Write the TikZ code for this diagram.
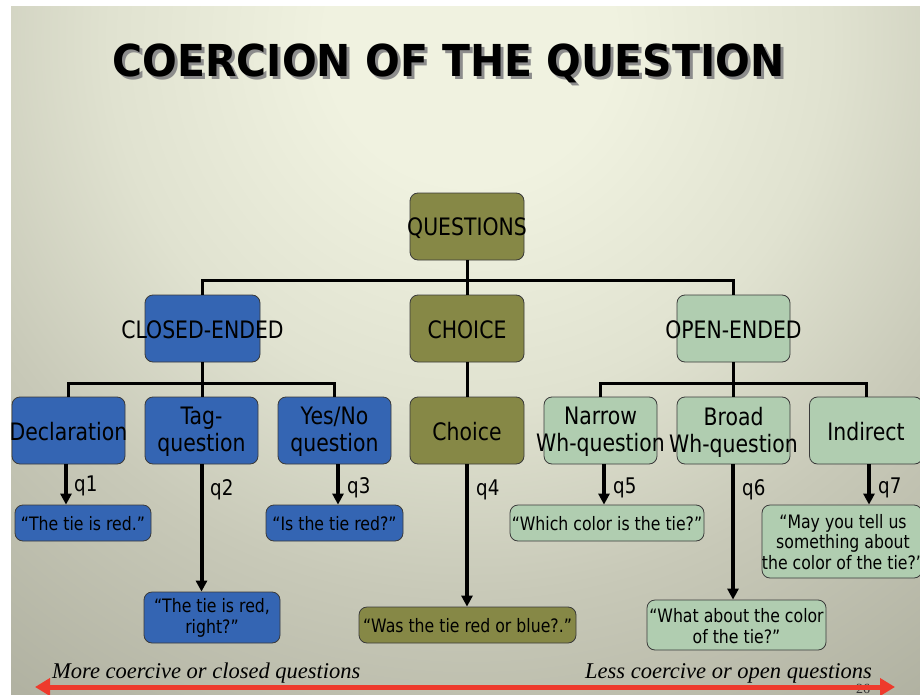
\documentclass[tikz,border=0pt]{standalone}
\usepackage{fontspec}
\usetikzlibrary{arrows.meta}
\newfontfamily\dv{DejaVu Sans}[FakeStretch=0.85]
\newfontfamily\tfont{DejaVu Sans}[FakeStretch=0.93]
\newfontfamily\itf{Liberation Serif}
\definecolor{cblue}{HTML}{3465B3}
\definecolor{colive}{HTML}{868846}
\definecolor{cgreen}{HTML}{B0CDB0}
\definecolor{cborder}{HTML}{3A3A3A}
\definecolor{bgA}{HTML}{F0F2E0}
\definecolor{bgL}{HTML}{E0E2D0}
\definecolor{bgM}{HTML}{C8C9B8}
\definecolor{bgN}{HTML}{AAAB9B}
\definecolor{bgB}{HTML}{8E8F80}
\definecolor{cred}{HTML}{EE3A2C}
\pgfdeclareradialshading{bgshade}{\pgfpoint{0bp}{0bp}}{color(0bp)=(bgA); color(4.2bp)=(bgA); color(10.6bp)=(bgL); color(16.3bp)=(bgM); color(25.4bp)=(bgN); color(33.3bp)=(bgB); color(50bp)=(bgB)}
\begin{document}
\begin{tikzpicture}[x=1pt,y=-1pt,
  box/.style={draw=cborder, line width=0.8pt, rounded corners=8pt, inner sep=0pt},
  bigtxt/.style={font=\dv\fontsize{24}{27}\selectfont, align=center, inner sep=0pt, text=black},
  smalltxt/.style={font=\dv\fontsize{18.5}{20.5}\selectfont, align=center, inner sep=0pt, text=black},
  lab/.style={font=\dv\fontsize{21.5}{24}\selectfont, inner sep=0pt, anchor=west},
  tree/.style={line width=3pt, black},
  arr/.style={line width=4pt, black, -{Triangle[length=11pt,width=11pt]}},
  itxt/.style={font=\itf\itshape\fontsize{22.5}{26}\selectfont, inner sep=0pt, text=black}
]
\useasboundingbox (0,0) rectangle (920,695);
\fill[white] (0,0) rectangle (920,695);
\begin{scope}
  \clip (11,7) rectangle (920,695);
  \shade[shading=bgshade] (470,40) circle (850);
\end{scope}

% title
\node[font=\tfont\bfseries\fontsize{44}{50}\selectfont, text=black!45, inner sep=0pt] (titleshadow) at (451.5,66) {COERCION OF THE QUESTION};
\node[font=\tfont\bfseries\fontsize{44}{50}\selectfont, text=black, inner sep=0pt] (title) at (448.5,63) {COERCION OF THE QUESTION};

% level 1
\node[box, fill=colive, minimum width=114, minimum height=67] (Q) at (467,226.5) {};
% level 2
\node[box, fill=cblue, minimum width=115, minimum height=67] (CE) at (202.5,328.5) {};
\node[box, fill=colive, minimum width=114, minimum height=67] (CH) at (467,328.5) {};
\node[box, fill=cgreen, minimum width=113, minimum height=67] (OE) at (733.5,328.5) {};
% level 3
\node[box, fill=cblue, minimum width=113, minimum height=67] (decl) at (68.5,430.5) {};
\node[box, fill=cblue, minimum width=113, minimum height=67] (tag) at (201.5,430.5) {};
\node[box, fill=cblue, minimum width=113, minimum height=67] (yn) at (334.5,430.5) {};
\node[box, fill=colive, minimum width=114, minimum height=67] (ch2) at (467,430.5) {};
\node[box, fill=cgreen, minimum width=113, minimum height=67] (nar) at (600.5,430.5) {};
\node[box, fill=cgreen, minimum width=113, minimum height=67] (bro) at (733.5,430.5) {};
\node[box, fill=cgreen, minimum width=113, minimum height=67] (ind) at (866,430.5) {};
% leaves
\node[box, fill=cblue, minimum width=136, minimum height=36] (l1) at (83,523) {};
\node[box, fill=cblue, minimum width=136, minimum height=51] (l2) at (212,617.5) {};
\node[box, fill=cblue, minimum width=137, minimum height=36] (l3) at (334.5,523) {};
\node[box, fill=colive, minimum width=217, minimum height=36] (l4) at (467.5,625) {};
\node[box, fill=cgreen, minimum width=194, minimum height=36] (l5) at (607,523) {};
\node[box, fill=cgreen, minimum width=179, minimum height=50] (l6) at (736.5,625) {};
\node[box, fill=cgreen, minimum width=160, minimum height=73] (l7) at (842,541.5) {};

% box texts
\node[bigtxt] (tQ) at (467,228) {QUESTIONS};
\node[bigtxt] (tCE) at (202.5,330) {CLOSED-ENDED};
\node[bigtxt] (tCH) at (467,330) {CHOICE};
\node[bigtxt] (tOE) at (733.5,330) {OPEN-ENDED};
\node[bigtxt] (tdecl) at (68.5,432) {Declaration};
\node[bigtxt] (ttag) at (201.5,432) {Tag-\\question};
\node[bigtxt] (tyn) at (334.5,432) {Yes/No\\question};
\node[bigtxt] (tch2) at (467,432) {Choice};
\node[bigtxt] (tnar) at (600.5,432) {Narrow\\Wh-question};
\node[bigtxt] (tbro) at (733.5,432) {Broad\\Wh-question};
\node[bigtxt] (tind) at (866,432) {Indirect};
\node[smalltxt] (tl1) at (83,524) {“The tie is red.”};
\node[smalltxt] (tl2) at (212,618) {“The tie is red,\\right?”};
\node[smalltxt] (tl3) at (334.5,524) {“Is the tie red?”};
\node[smalltxt] (tl4) at (467.5,626) {“Was the tie red or blue?.”};
\node[smalltxt] (tl5) at (607,524) {“Which color is the tie?”};
\node[smalltxt] (tl6) at (736.5,626) {“What about the color\\of the tie?”};
\node[smalltxt] (tl7) at (843,542) {“May you tell us\\something about\\the color of the tie?”};

% tree connectors
\draw[tree] (Q.south) -- ++(0,20) coordinate (j1);
\draw[tree] (CE.north) |- (j1) -| (OE.north);
\draw[tree] (j1) -- (CH.north);
\draw[tree] (CE.south) -- ++(0,21) coordinate (j2);
\draw[tree] (decl.north) |- (j2) -| (yn.north);
\draw[tree] (j2) -- (j2 |- tag.north);
\draw[tree] (CH.south) -- (ch2.north);
\draw[tree] (OE.south) -- ++(0,21) coordinate (j3);
\draw[tree] (nar.north) |- (j3) -| (ind.north);
\draw[tree] (j3) -- (bro.north);

% arrows
\draw[arr] ([xshift=-2.5]decl.south) -- ([xshift=-2.5]decl.south |- l1.north);
\draw[arr] (tag.south) -- (tag.south |- l2.north);
\draw[arr] ([xshift=3.5]yn.south) -- ([xshift=3.5]yn.south |- l3.north);
\draw[arr] (ch2.south) -- (ch2.south |- l4.north);
\draw[arr] ([xshift=3.5]nar.south) -- ([xshift=3.5]nar.south |- l5.north);
\draw[arr] ([xshift=-0.5]bro.south) -- ([xshift=-0.5]bro.south |- l6.north);
\draw[arr] ([xshift=3]ind.south) -- ([xshift=3]ind.south |- l7.north);

% q labels
\node[lab] (q1) at (74,486) {q1};
\node[lab] (q2) at (210,490) {q2};
\node[lab] (q3) at (347,488) {q3};
\node[lab] (q4) at (476,490) {q4};
\node[lab] (q5) at (613,488) {q5};
\node[lab] (q6) at (742,490) {q6};
\node[lab] (q7) at (878,488) {q7};

% bottom
\node[itxt, anchor=west] (more) at (52,673) {More coercive or closed questions};
\node[itxt, anchor=east] (less) at (872,673) {Less coercive or open questions};
\node[font=\itf\fontsize{14}{16}\selectfont, text=black!80, inner sep=0pt] (pg) at (863,689) {26};
\coordinate (al) at (35,687);
\coordinate (ar) at (895,687);
\draw[cred, line width=5pt, {Triangle[length=15pt,width=17pt]}-{Triangle[length=15pt,width=17pt]}] (al) -- (ar);
\end{tikzpicture}
\end{document}
